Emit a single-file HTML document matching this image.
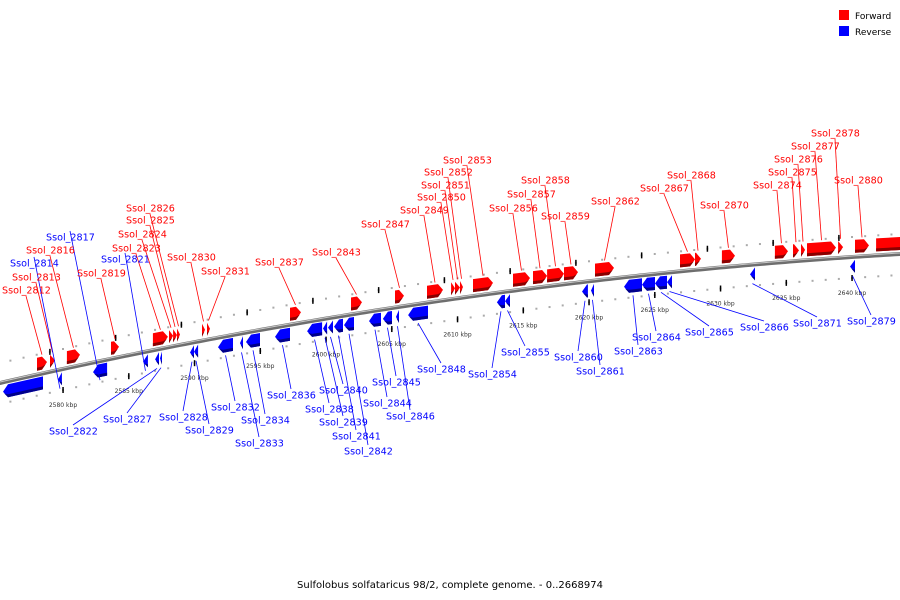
<!DOCTYPE html>
<html><head><meta charset="utf-8"><style>
html,body{margin:0;padding:0;background:#fff;}
svg{display:block;font-family:"DejaVu Sans","Liberation Sans",sans-serif;}
</style></head><body>
<svg id="chart" width="900" height="600" viewBox="0 0 900 600" xmlns="http://www.w3.org/2000/svg">
<rect x="839" y="10" width="10" height="10" fill="#f00"/>
<text x="855" y="19" font-size="9" fill="#000">Forward</text>
<rect x="839" y="26" width="10" height="10" fill="#00f"/>
<text x="855" y="35" font-size="9" fill="#000">Reverse</text>
<text x="450" y="588" font-size="10" text-anchor="middle" fill="#000">Sulfolobus solfataricus 98/2, complete genome. - 0..2668974</text>
<g id="tracks"></g><g id="backbone"></g><g id="genes"></g><g id="leaders"></g><g id="labels"></g>
</svg>
<script>
const fwdNames=["","Ssol_2812","Ssol_2813","Ssol_2816","Ssol_2819","Ssol_2823","Ssol_2824","Ssol_2825","Ssol_2826","Ssol_2830","Ssol_2831","Ssol_2837","Ssol_2843","Ssol_2847","Ssol_2849","Ssol_2850","Ssol_2851","Ssol_2852","Ssol_2853","Ssol_2856","Ssol_2857","Ssol_2858","Ssol_2859","Ssol_2862","Ssol_2867","Ssol_2868","Ssol_2870","Ssol_2874","Ssol_2875","Ssol_2876","Ssol_2877","Ssol_2878","Ssol_2880"];
const fwdStart=[2641.83,2578.02,2579.01,2580.30,2583.65,2586.84,2588.06,2588.37,2588.67,2590.57,2590.95,2597.26,2601.90,2605.25,2607.68,2609.51,2609.81,2610.19,2611.18,2614.22,2615.74,2616.81,2618.10,2620.46,2626.92,2628.06,2630.11,2634.14,2635.51,2636.12,2636.58,2638.94,2640.23];
const fwdEnd=[2644.03,2578.78,2579.39,2581.29,2584.26,2587.98,2588.37,2588.67,2588.90,2590.80,2591.18,2598.10,2602.74,2605.93,2608.90,2609.81,2610.19,2610.42,2612.70,2615.51,2616.81,2618.10,2619.16,2621.90,2628.06,2628.52,2631.10,2635.13,2635.97,2636.43,2638.78,2639.32,2641.29];
const fwdLabelX=[0,2,12,26,77,112,118,126,126,167,201,255,312,361,400,417,421,424,443,489,507,521,541,591,640,667,700,753,768,774,791,811,834];
const fwdLabelY=[0,290,277,250,273,248,234,220,208,257,271,262,252,224,210,197,185,172,160,208,194,180,216,201,188,175,205,185,172,159,146,133,180];
const revNames=["","Ssol_2814","Ssol_2817","Ssol_2821","Ssol_2822","Ssol_2827","Ssol_2828","Ssol_2829","Ssol_2832","Ssol_2833","Ssol_2834","Ssol_2836","Ssol_2838","Ssol_2839","Ssol_2840","Ssol_2841","Ssol_2842","Ssol_2844","Ssol_2845","Ssol_2846","Ssol_2848","Ssol_2854","Ssol_2855","Ssol_2860","Ssol_2861","Ssol_2863","Ssol_2864","Ssol_2865","Ssol_2866","Ssol_2871","Ssol_2879"];
const revStart=[2575.44,2579.62,2582.28,2586.08,2587.00,2587.38,2589.66,2589.96,2591.79,2593.46,2593.92,2596.12,2598.56,2599.77,2600.15,2600.61,2601.37,2603.27,2604.33,2605.32,2606.24,2613.00,2613.61,2619.47,2620.15,2622.66,2624.03,2625.02,2625.93,2632.24,2639.85];
const revEnd=[2578.48,2579.92,2583.35,2586.46,2587.30,2587.53,2589.96,2590.27,2592.93,2593.69,2594.98,2597.26,2599.70,2600.08,2600.53,2601.29,2602.13,2604.18,2605.02,2605.55,2607.76,2613.61,2613.99,2619.92,2620.38,2624.03,2625.02,2625.93,2626.31,2632.62,2640.23];
const revLabelX=[0,10,46,101,49,103,159,185,211,235,241,267,305,319,319,332,344,363,372,386,417,468,501,554,576,614,632,685,740,793,847];
const revLabelY=[0,263,237,259,431,419,417,430,407,443,420,395,409,422,390,436,451,403,382,416,369,374,352,357,371,351,337,332,327,323,321];
const tickKbp=[2580,2585,2590,2595,2600,2605,2610,2615,2620,2625,2630,2635,2640];

const NS="http://www.w3.org/2000/svg";
function xs(k){return 63+(k-2580)*13.15;}
function L(x){return 383-0.2283*x+0.0000944*x*x;}
function mk(tag,attrs,parent){const e=document.createElementNS(NS,tag);for(const k in attrs)e.setAttribute(k,attrs[k]);document.getElementById(parent).appendChild(e);return e;}

// backbone
let d="";for(let x=-5;x<=905;x+=5){d+=(x===-5?"M":"L")+x+","+L(x).toFixed(2)+" ";}
let bb=mk("path",{d:d,stroke:"#6e6e6e","stroke-width":4,fill:"none"},"backbone");


let bh=mk("path",{d:d,stroke:"#c8c8c8","stroke-width":1,fill:"none",transform:"translate(0,-1)"},"backbone");



// dotted tracks and ticks
for(let k=2575;k<=2645;k++){
  const x=xs(k);if(x<0||x>900)continue;
  const up=mk("rect",{x:x-1,y:L(x)-21,width:2,height:2,fill:"#aaa"},"tracks");
  
  
  const lo=mk("rect",{x:x-1,y:L(x)+20,width:2,height:2,fill:"#aaa"},"tracks");
  
  
}
tickKbp.forEach(k=>{
  const x=xs(k);
  const t=mk("rect",{x:x-0.7,y:L(x)+18,width:1.5,height:6,fill:"#000"},"tracks");
  
  
  const t2x=xs(k-1);
  const t2=mk("rect",{x:t2x-0.7,y:L(t2x)-23,width:1.5,height:6,fill:"#000"},"tracks");
  
  
  const lb=mk("text",{x:x,y:L(x)+38,"font-size":6,"text-anchor":"middle",fill:"#333"},"tracks");
  lb.textContent=k+" kbp";
  
  
});

function gene(s,e,fwd,name){
  const x1=xs(s),x2=xs(e),w=x2-x1,head=Math.min(5,w);
  const off1=fwd?-17:3,h=13;
  const pt=(x,o)=>x.toFixed(1)+","+(L(x)+o).toFixed(1);
  let pts;
  if(fwd){const xb=x2-head;pts=[pt(x1,off1),pt(xb,off1),pt(x2,off1+h/2),pt(xb,off1+h),pt(x1,off1+h)];}
  else{const xb=x1+head;pts=[pt(xb,off1),pt(x2,off1),pt(x2,off1+h),pt(xb,off1+h),pt(x1,off1+h/2)];}
  const g=mk("polygon",{points:pts.join(" "),fill:fwd?"#f00":"#00f"},"genes");
  
  
  let shade;
  if(fwd){const xb=x2-head;shade=[pt(x1,off1+h-3),pt(xb,off1+h-3),pt(x2-head*0.25,off1+h*0.65),pt(xb,off1+h),pt(x1,off1+h)];}
  else{const xb=x1+head;shade=[pt(xb,off1+h-3),pt(x2,off1+h-3),pt(x2,off1+h),pt(xb,off1+h),pt(x1+head*0.25,off1+h*0.65)];}
  const sh=mk("polygon",{points:shade.join(" "),fill:fwd?"#8a0000":"#00008a"},"genes");
  
  
  return (x1+x2)/2;
}
function label(txt,lx,ly,mx,fwd){
  const col=fwd?"#f00":"#00f";
  const cx=lx+24;
  const my=fwd?L(mx)-19:L(mx)+19;
  const ln=mk("line",{x1:cx,y1:fwd?ly+6:ly-6,x2:mx,y2:my,stroke:col,"stroke-width":0.8},"leaders");
  
  
  const t=mk("text",{x:lx,y:ly+3.5,"font-size":9.6,fill:col},"labels");
  t.textContent=txt;
  
  
}
fwdStart.forEach((s,i)=>{const m=gene(s,fwdEnd[i],true,fwdNames[i]);if(fwdNames[i])label(fwdNames[i],fwdLabelX[i],fwdLabelY[i],m,true);});
revStart.forEach((s,i)=>{const m=gene(s,revEnd[i],false,revNames[i]);if(revNames[i])label(revNames[i],revLabelX[i],revLabelY[i],m,false);});
</script>
</body></html>
